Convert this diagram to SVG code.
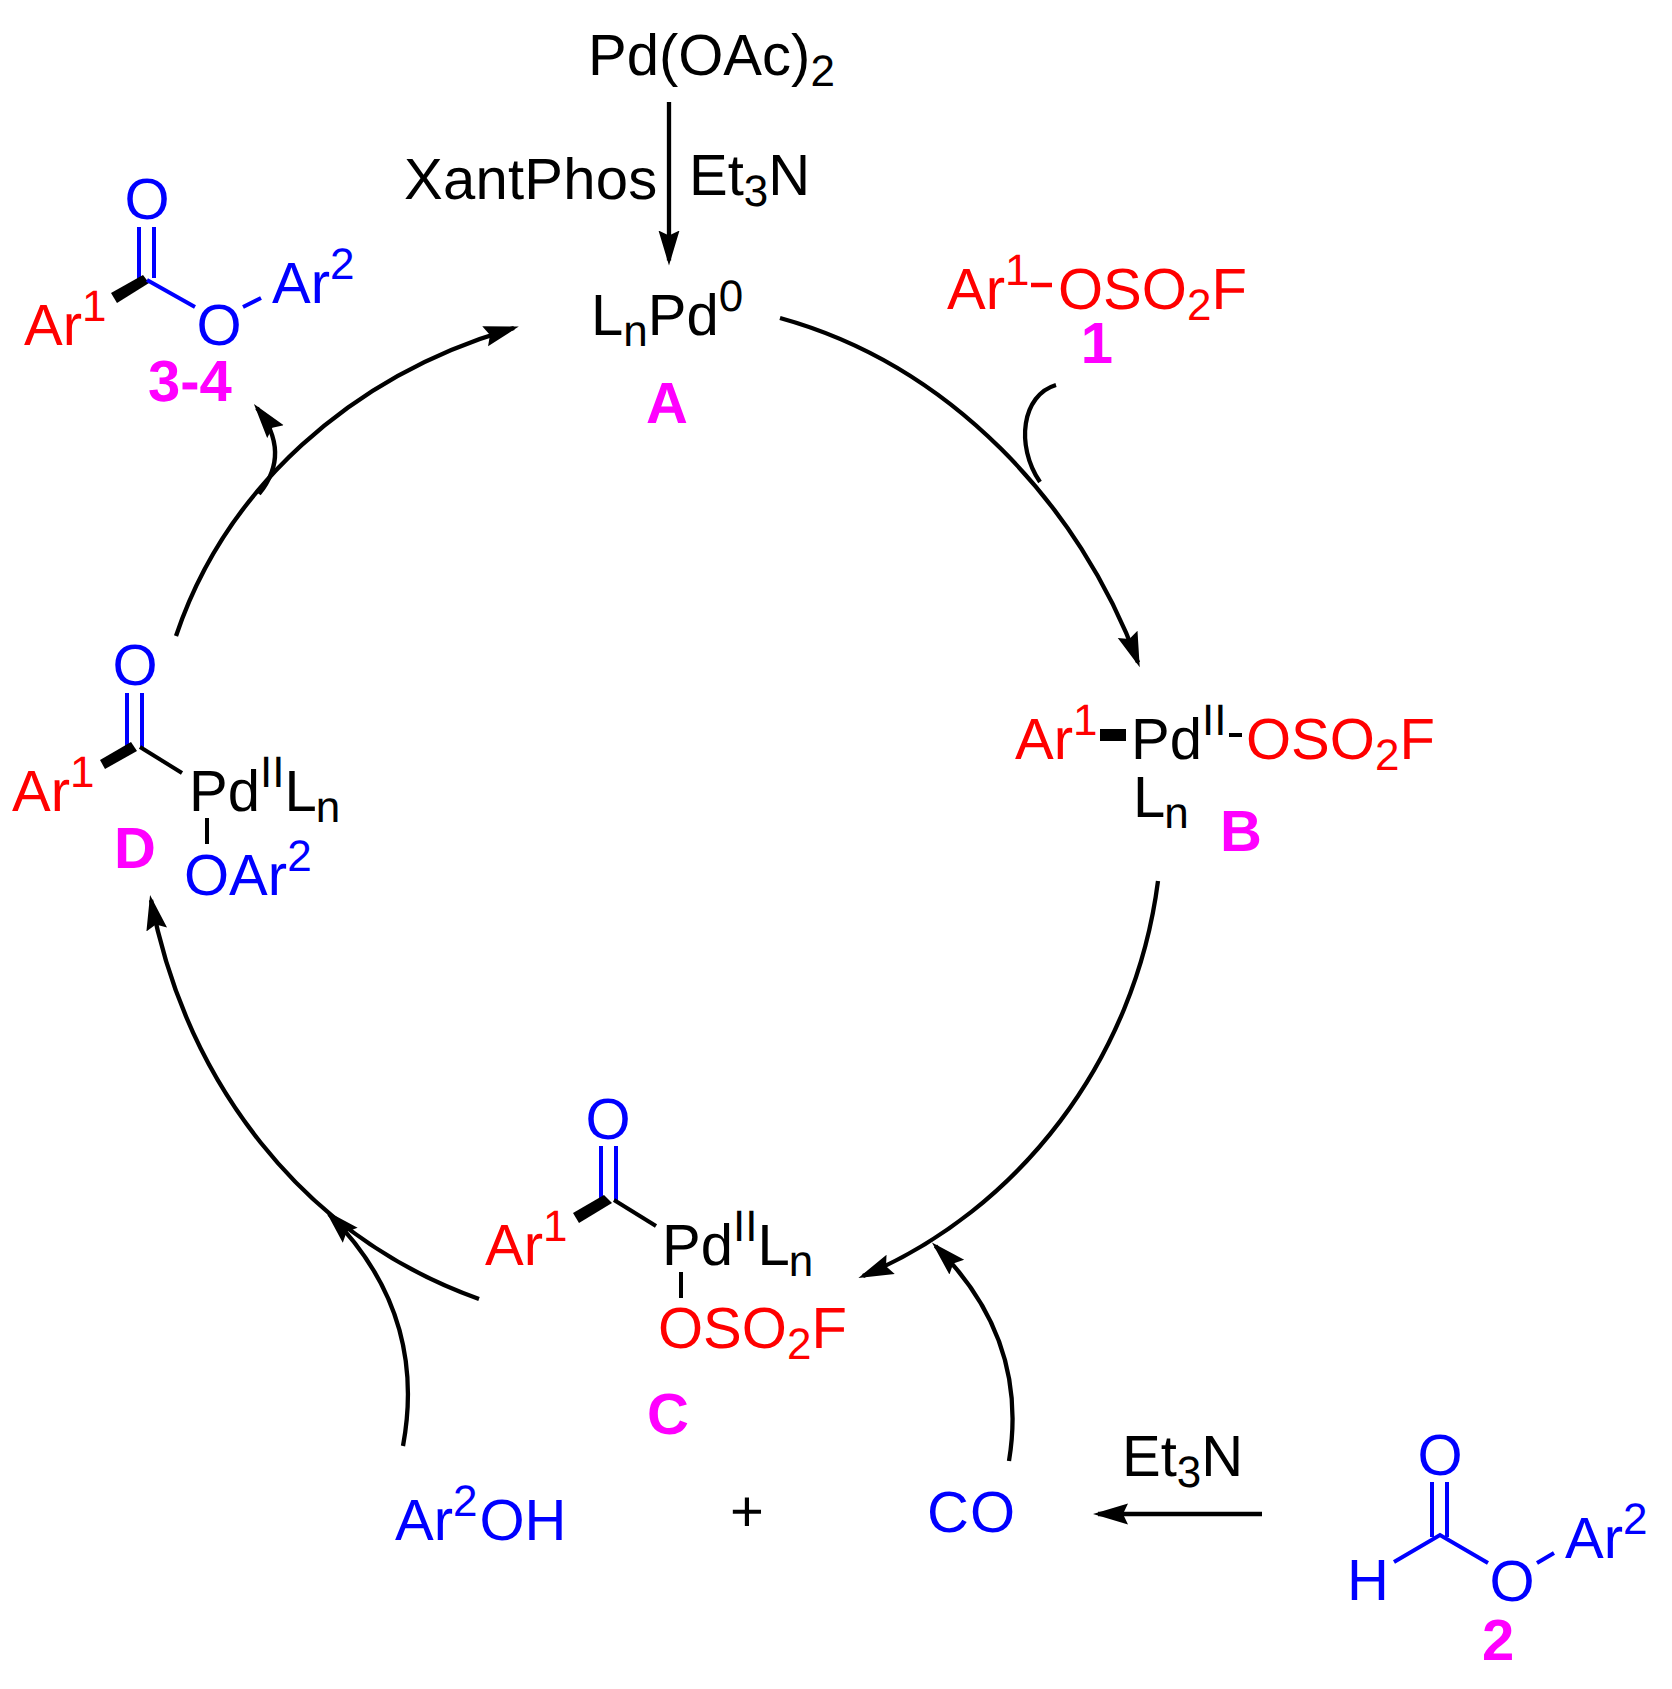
<svg xmlns="http://www.w3.org/2000/svg" width="1672" height="1689" viewBox="0 0 1672 1689">
<style>
text{font-family:"Liberation Sans",Arial,sans-serif;font-size:58px;white-space:pre;font-kerning:none;text-rendering:geometricPrecision}
.k{fill:#000}.r{fill:#f00}.b{fill:#00f}
.m{fill:#f0f;font-weight:bold}
.s{font-size:44px}
.bb{stroke:#00f;stroke-width:4;fill:none}
.bk{stroke:#000;stroke-width:4;fill:none}
.br{stroke:#f00;stroke-width:4.5;fill:none}
.c{stroke:#000;stroke-width:4.3;fill:none;marker-end:url(#h)}
.c0{stroke:#000;stroke-width:4.3;fill:none}
</style>
<defs>
<marker id="h" markerUnits="userSpaceOnUse" markerWidth="40" markerHeight="24" refX="30" refY="11" orient="auto"><path d="M35 11L0 0.5L5 11L0 21.5Z" fill="#000"/></marker>
</defs>
<rect width="1672" height="1689" fill="#fff"/>
<g id="connectors">
<path class="c" d="M669 102V260.5"/>
<path class="c" d="M780 318C950 365 1080 505 1138 662.5"/>
<path class="c" d="M1158 881C1135 1060 1019 1210 863 1276"/>
<path class="c" d="M479 1299C300 1235 186 1080 151 900"/>
<path class="c" d="M176 636C225 490 350 375 514 328"/>
<path class="c0" d="M1056 385C1022 395 1015 445 1040 482"/>
<path class="c" d="M259 494C280 468 282 440 257 408"/>
<path class="c" d="M403 1446C418 1365 400 1285 329 1214"/>
<path class="c" d="M1009 1461C1024 1370 990 1300 935.5 1246"/>
<path class="c" d="M1262 1514H1098"/>
</g>
<g id="pdoac2"><text class="k" x="588" y="75">Pd(OAc)<tspan class="s" dy="11">2</tspan></text></g>
<g id="xantphos"><text class="k" x="404" y="199" style="letter-spacing:.25px">XantPhos</text></g>
<g id="et3n-top"><text class="k" x="689" y="195">Et<tspan class="s" dy="11">3</tspan><tspan dy="-11">N</tspan></text></g>
<g id="node-a"><text class="k" x="591" y="335">L<tspan class="s" dy="11">n</tspan><tspan dy="-11">Pd</tspan><tspan class="s" dy="-24">0</tspan></text>
<text class="m" x="667" y="423" text-anchor="middle">A</text></g>
<g id="reagent-1"><text class="r" x="947" y="309">Ar<tspan class="s" dy="-24">1</tspan></text>
<path class="br" d="M1031 285H1052"/>
<text class="r" x="1058" y="309">OSO<tspan class="s" dy="11">2</tspan><tspan dy="-11">F</tspan></text>
<text class="m" x="1097" y="363" text-anchor="middle">1</text></g>
<g id="node-b"><text class="r" x="1015" y="759">Ar<tspan class="s" dy="-24">1</tspan></text>
<path stroke="#000" stroke-width="12" d="M1100 735H1126"/>
<text class="k" x="1131" y="759">Pd<tspan class="s" dy="-24">II</tspan></text>
<path class="bk" d="M1229 735H1242"/>
<text class="r" x="1246" y="759">OSO<tspan class="s" dy="11">2</tspan><tspan dy="-11">F</tspan></text>
<text class="k" x="1133" y="817">L<tspan class="s" dy="11" dx="-1">n</tspan></text>
<text class="m" x="1220" y="851">B</text></g>
<g id="node-c">
<text class="b" x="608" y="1139" text-anchor="middle">O</text>
<path class="bb" d="M601 1146V1205M616 1146V1202"/>
<path d="M573 1213L579 1223L612 1203L604 1195Z" fill="#000"/>
<path class="bk" d="M614 1200L656 1226"/>
<text class="r" x="485" y="1265">Ar<tspan class="s" dy="-24">1</tspan></text>
<text class="k" x="662" y="1265">Pd<tspan class="s" dy="-24">II</tspan><tspan dy="24">L</tspan><tspan class="s" dy="11" dx="-1">n</tspan></text>
<path class="bk" d="M681 1272V1298"/>
<text class="r" x="658" y="1348">OSO<tspan class="s" dy="11">2</tspan><tspan dy="-11">F</tspan></text>
<text class="m" x="668" y="1434" text-anchor="middle">C</text></g>
<g id="node-d">
<text class="b" x="135" y="685" text-anchor="middle">O</text>
<path class="bb" d="M127 693V752M142 693V747"/>
<path d="M100 760L105 769L137 751L131 742Z" fill="#000"/>
<path class="bk" d="M140 747L182 773"/>
<text class="r" x="12" y="811">Ar<tspan class="s" dy="-24">1</tspan></text>
<text class="k" x="189" y="811">Pd<tspan class="s" dy="-24">II</tspan><tspan dy="24">L</tspan><tspan class="s" dy="11" dx="-1">n</tspan></text>
<path class="bk" d="M207 818V844"/>
<text class="b" x="184" y="895">OAr<tspan class="s" dy="-24">2</tspan></text>
<text class="m" x="114" y="868">D</text></g>
<g id="product-3-4">
<text class="b" x="147" y="219" text-anchor="middle">O</text>
<path class="bb" d="M139 227V285M154 227V278"/>
<path d="M111 293L117 303L149 283L143 275Z" fill="#000"/>
<path class="bb" d="M147 280L195 307M243 307L261 298"/>
<text class="r" x="24" y="345">Ar<tspan class="s" dy="-24">1</tspan></text>
<text class="b" x="219" y="345" text-anchor="middle">O</text>
<text class="b" x="272" y="303">Ar<tspan class="s" dy="-24">2</tspan></text>
<text class="m" x="148" y="401">3-4</text></g>
<g id="ar2oh"><text class="b" x="395" y="1540">Ar<tspan class="s" dy="-24">2</tspan><tspan dy="24" dx="2">OH</tspan></text></g>
<g id="plus"><text class="k" x="747" y="1531" text-anchor="middle">+</text></g>
<g id="co"><text class="b" x="927" y="1532" style="letter-spacing:1px">CO</text></g>
<g id="et3n-bottom"><text class="k" x="1122" y="1476">Et<tspan class="s" dy="11">3</tspan><tspan dy="-11">N</tspan></text></g>
<g id="formate-2">
<text class="b" x="1440" y="1475" text-anchor="middle">O</text>
<path class="bb" d="M1432 1482V1537M1447 1482V1537"/>
<path class="bb" d="M1394 1562L1440 1535L1488 1563M1537 1563L1554 1553"/>
<text class="b" x="1347" y="1600">H</text>
<text class="b" x="1512" y="1601" text-anchor="middle">O</text>
<text class="b" x="1565" y="1558">Ar<tspan class="s" dy="-24">2</tspan></text>
<text class="m" x="1482" y="1660">2</text></g>
</svg>
